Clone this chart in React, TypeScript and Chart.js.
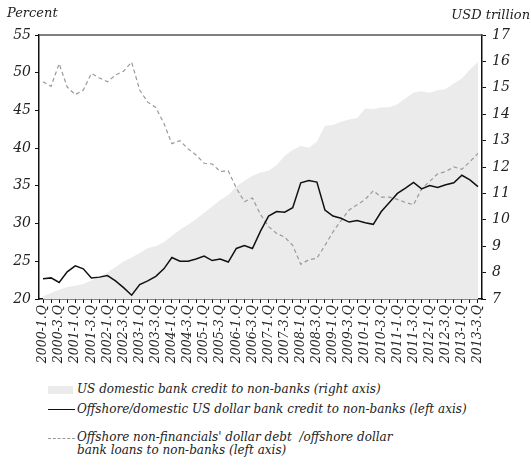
import React, { useEffect, useRef } from "react";
import { Chart, registerables } from "chart.js";

Chart.register(...registerables);

const quarters = [
  "2000-1.Q","2000-2.Q","2000-3.Q","2000-4.Q",
  "2001-1.Q","2001-2.Q","2001-3.Q","2001-4.Q",
  "2002-1.Q","2002-2.Q","2002-3.Q","2002-4.Q",
  "2003-1.Q","2003-2.Q","2003-3.Q","2003-4.Q",
  "2004-1.Q","2004-2.Q","2004-3.Q","2004-4.Q",
  "2005-1.Q","2005-2.Q","2005-3.Q","2005-4.Q",
  "2006-1.Q","2006-2.Q","2006-3.Q","2006-4.Q",
  "2007-1.Q","2007-2.Q","2007-3.Q","2007-4.Q",
  "2008-1.Q","2008-2.Q","2008-3.Q","2008-4.Q",
  "2009-1.Q","2009-2.Q","2009-3.Q","2009-4.Q",
  "2010-1.Q","2010-2.Q","2010-3.Q","2010-4.Q",
  "2011-1.Q","2011-2.Q","2011-3.Q","2011-4.Q",
  "2012-1.Q","2012-2.Q","2012-3.Q","2012-4.Q",
  "2013-1.Q","2013-2.Q","2013-3.Q",
];

// Right axis, USD trillion
const usDomesticCredit = [
  7.1, 7.23, 7.35, 7.45, 7.5, 7.57, 7.7, 7.85, 8.0, 8.21, 8.42, 8.57, 8.74, 8.93,
  9.0, 9.15, 9.4, 9.62, 9.81, 10.03, 10.27, 10.5, 10.75, 10.94, 11.26, 11.48, 11.67,
  11.79, 11.86, 12.08, 12.42, 12.64, 12.8, 12.73, 12.96, 13.56, 13.59, 13.71, 13.8,
  13.86, 14.22, 14.19, 14.26, 14.26, 14.38, 14.6, 14.82, 14.87, 14.81, 14.91, 14.95,
  15.16, 15.35, 15.69, 15.98,
];

// Left axis, percent
const offshoreDomesticRatio = [
  22.7, 22.8, 22.2, 23.6, 24.4, 24.0, 22.8, 22.9, 23.1, 22.4, 21.5, 20.5, 21.9, 22.4,
  23.0, 24.0, 25.5, 25.0, 25.0, 25.3, 25.7, 25.1, 25.3, 24.9, 26.7, 27.1, 26.7, 29.0,
  31.0, 31.6, 31.5, 32.1, 35.4, 35.7, 35.5, 31.8, 31.0, 30.7, 30.2, 30.4, 30.1, 29.9,
  31.6, 32.8, 34.0, 34.7, 35.45, 34.6, 35.05, 34.8, 35.15, 35.4, 36.4, 35.8, 34.9,
];

// Left axis, percent
const nonFinancialDebtRatio = [
  48.8, 48.2, 51.2, 48.1, 47.1, 47.7, 49.9, 49.3, 48.8, 49.7, 50.2, 51.4, 47.7, 46.1,
  45.4, 43.3, 40.6, 41.0, 39.9, 39.1, 38.0, 37.9, 36.9, 37.0, 34.7, 32.9, 33.4, 31.2,
  29.6, 28.7, 28.2, 27.1, 24.6, 25.2, 25.4, 27.1, 28.9, 30.4, 31.8, 32.5, 33.2, 34.35,
  33.5, 33.5, 33.2, 32.8, 32.5, 34.6, 35.6, 36.6, 36.9, 37.5, 37.2, 38.2, 39.3,
];

const leftTitle = "Percent";
const rightTitle = "USD trillion";
const legendLabels = [
  "US domestic bank credit to non-banks (right axis)",
  "Offshore/domestic US dollar bank credit to non-banks (left axis)",
  "Offshore non-financials' dollar debt  /offshore dollar\nbank loans to non-banks (left axis)",
];

const FONT = "'DejaVu Serif', serif";
const CANVAS_W = 531;
const CANVAS_H = 375;

const titlesPlugin = {
  id: "titles",
  afterDraw(chart: any) {
    const { ctx, chartArea } = chart;
    ctx.save();
    ctx.strokeStyle = "#555";
    ctx.lineWidth = 1.5;
    ctx.beginPath();
    ctx.moveTo(chartArea.left, chartArea.top);
    ctx.lineTo(chartArea.right, chartArea.top);
    ctx.stroke();
    ctx.fillStyle = "#222";
    ctx.font = `italic 13px ${FONT}`;
    ctx.textBaseline = "alphabetic";
    ctx.textAlign = "left";
    ctx.fillText(leftTitle, 7, 17);
    ctx.textAlign = "right";
    ctx.fillText(rightTitle, 530, 19);
    ctx.restore();
  },
};

export default function App() {
  const ref = useRef<HTMLCanvasElement | null>(null);
  useEffect(() => {
    document.body.style.margin = "0";
    if (!ref.current) return;
    const chart = new Chart(ref.current, {
      type: "line",
      data: {
        labels: quarters,
        datasets: [
          {
            label: legendLabels[1],
            data: offshoreDomesticRatio,
            yAxisID: "y",
            borderColor: "#111",
            borderWidth: 1.5,
            pointRadius: 0,
            tension: 0,
            fill: false,
          },
          {
            label: legendLabels[2],
            data: nonFinancialDebtRatio,
            yAxisID: "y",
            borderColor: "#9a9a9a",
            borderWidth: 1.2,
            borderDash: [4, 3],
            pointRadius: 0,
            tension: 0,
            fill: false,
          },
          {
            label: legendLabels[0],
            data: usDomesticCredit,
            yAxisID: "y1",
            borderWidth: 0,
            borderColor: "rgba(0,0,0,0)",
            backgroundColor: "#ebebeb",
            pointRadius: 0,
            tension: 0,
            fill: "start",
          },
        ],
      },
      options: {
        responsive: false,
        animation: false,
        layout: { padding: { top: 35, left: 0, right: 0, bottom: 0 } },
        plugins: {
          legend: { display: false },
          tooltip: { enabled: false },
        },
        scales: {
          x: {
            type: "category",
            offset: true,
            afterFit: (s: any) => {
              s.height = 76;
            },
            grid: {
              drawOnChartArea: false,
              drawTicks: true,
              tickLength: 4,
              color: "#111",
              offset: false,
            },
            border: { display: true, color: "#111", width: 1.5 },
            ticks: {
              autoSkip: false,
              maxRotation: 90,
              minRotation: 90,
              padding: 2,
              color: "#222",
              font: { family: FONT, size: 12.5, style: "italic" },
              callback: (_v: any, i: number) => (i % 2 === 0 ? quarters[i] : ""),
            },
          },
          y: {
            position: "left",
            min: 20,
            max: 55,
            afterFit: (s: any) => {
              s.width = 39;
            },
            grid: { drawOnChartArea: false, tickLength: 4, color: "#111" },
            border: { display: true, color: "#111", width: 1.5 },
            ticks: {
              stepSize: 5,
              padding: 4,
              color: "#222",
              font: { family: FONT, size: 14, style: "italic" },
            },
          },
          y1: {
            position: "right",
            min: 7,
            max: 17,
            afterFit: (s: any) => {
              s.width = 49;
            },
            grid: { drawOnChartArea: false, tickLength: 4, color: "#111" },
            border: { display: true, color: "#111", width: 1.5 },
            ticks: {
              stepSize: 1,
              padding: 6,
              color: "#222",
              font: { family: FONT, size: 14, style: "italic" },
            },
          },
        },
      },
      plugins: [titlesPlugin],
    });
    return () => chart.destroy();
  }, []);

  const textStyle: React.CSSProperties = {
    position: "absolute",
    left: 77,
    fontFamily: FONT,
    fontStyle: "italic",
    fontSize: 12,
    lineHeight: "12.5px",
    color: "#222",
    whiteSpace: "pre",
  };

  return (
    <div style={{ position: "relative", width: CANVAS_W, height: 471 }}>
      <canvas ref={ref} width={CANVAS_W} height={CANVAS_H} style={{ display: "block" }} />
      <div style={{ position: "absolute", left: 48, top: 386, width: 25, height: 8, background: "#ebebeb" }} />
      <div style={{ ...textStyle, top: 383 }}>{legendLabels[0]}</div>
      <div style={{ position: "absolute", left: 48, top: 409, width: 27, height: 0, borderTop: "1.5px solid #111" }} />
      <div style={{ ...textStyle, top: 403 }}>{legendLabels[1]}</div>
      <div style={{ position: "absolute", left: 48, top: 438, width: 27, height: 0, borderTop: "1px dashed #9a9a9a" }} />
      <div style={{ ...textStyle, top: 431 }}>{legendLabels[2]}</div>
    </div>
  );
}
